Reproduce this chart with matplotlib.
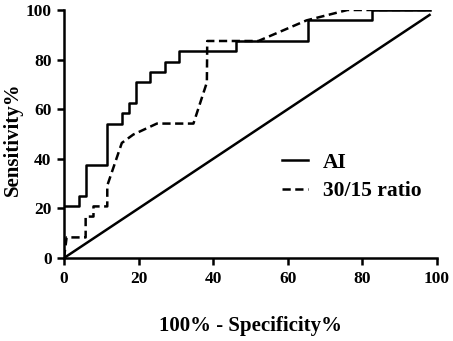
import matplotlib
matplotlib.use("Agg")
import matplotlib.pyplot as plt

# --- datos ---
ai_x = [0, 4.1, 4.1, 5.8, 5.8, 11.6, 11.6, 15.5, 15.5, 17.4, 17.4, 19.3, 19.3,
        23.1, 23.1, 27.1, 27.1, 30.8, 30.8, 46.0, 46.0, 65.3, 65.3, 82.6, 82.6, 98]
ai_y = [20.8, 20.8, 25.0, 25.0, 37.5, 37.5, 54.2, 54.2, 58.3, 58.3, 62.5, 62.5, 70.8,
        70.8, 75.0, 75.0, 79.2, 79.2, 83.3, 83.3, 87.5, 87.5, 95.8, 95.8, 100, 100]

ratio_x = [0, 0.7, 5.8, 5.8, 7.9, 7.9, 11.6, 11.6, 15.5, 18.6, 24.9, 34.7, 38.3,
           38.4, 52.1, 65.0, 76.0, 98]
ratio_y = [0, 8.3, 8.3, 16.7, 16.7, 20.8, 20.8, 29.2, 46.4, 49.8, 54.2, 54.2, 70.8,
           87.5, 87.5, 95.8, 100, 100]

diag = [0, 98]
ticks = [0, 20, 40, 60, 80, 100]

plt.rcParams['font.family'] = ['Liberation Serif', 'DejaVu Serif']
plt.rcParams['font.weight'] = 'bold'

fig = plt.figure(figsize=(4.53, 3.41), dpi=100)
ax = fig.add_axes([0.1413, 0.2434, 0.8234, 0.7273])

ax.plot(ai_x, ai_y, color='black', lw=1.8, label='AI')
ax.plot(ratio_x, ratio_y, color='black', lw=1.8, dashes=(3.3, 1.8), label='30/15 ratio')
ax.plot(diag, diag, color='black', lw=1.8)

ax.set_xlim(0, 100)
ax.set_ylim(0, 100)
ax.set_xticks(ticks)
ax.set_yticks(ticks)
for s in ['top', 'right']:
    ax.spines[s].set_visible(False)
for s in ['left', 'bottom']:
    ax.spines[s].set_linewidth(1.8)
ax.tick_params(width=1.8, length=5, labelsize=12.5, pad=4)
for lbl in ax.get_xticklabels() + ax.get_yticklabels():
    lbl.set_fontweight('bold')

ax.set_xlabel('100% - Specificity%', fontsize=15, fontweight='bold')
ax.xaxis.set_label_coords(0.5, -0.235)
ax.set_ylabel('Sensitivity%', fontsize=15, fontweight='bold')
ax.yaxis.set_label_coords(-0.11, 0.48)

leg = ax.legend(loc='center left', bbox_to_anchor=(0.584, 0.327), frameon=False,
                prop={'size': 15.5, 'weight': 'bold'}, handlelength=1.2,
                handletextpad=0.7, labelspacing=0.4, borderpad=0, borderaxespad=0)

fig.savefig('out.png', dpi=100)
